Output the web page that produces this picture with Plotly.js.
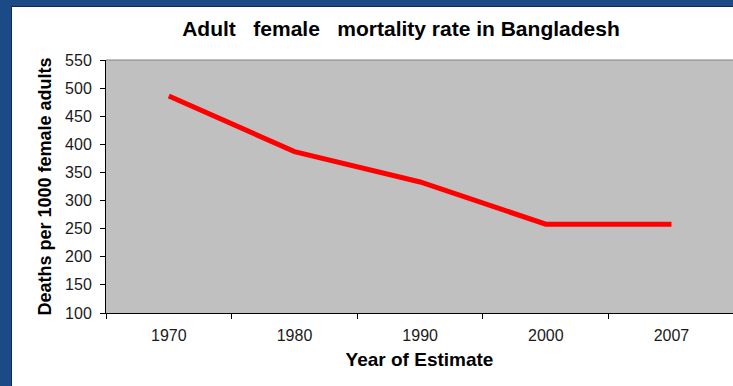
<!DOCTYPE html>
<html>
<head>
<meta charset="utf-8">
<script src="https://cdn.plot.ly/plotly-3.0.1.min.js"></script>
<style>
html,body{margin:0;padding:0;width:733px;height:386px;overflow:hidden;background:#1c4a86;}
#frame{position:absolute;left:11px;top:6px;width:722px;height:380px;background:#ffffff;border-left:1px solid #0e2a50;border-top:1px solid #0e2a50;box-sizing:border-box;}
#chart{position:absolute;left:0;top:0;width:733px;height:386px;}
</style>
</head>
<body>
<div id="frame"></div>
<div id="chart"></div>
<script>
var years = ["1970", "1980", "1990", "2000", "2007"];
var deaths = [486, 387, 333, 258, 258];
var yTicks = [100, 150, 200, 250, 300, 350, 400, 450, 500, 550];

var trace = {
  x: years,
  y: deaths,
  type: "scatter",
  mode: "lines",
  line: {color: "#ff0000", width: 5},
  hoverinfo: "skip"
};

var layout = {
  width: 733,
  height: 386,
  margin: {l: 106, r: 0, t: 60, b: 73, pad: 0},
  paper_bgcolor: "rgba(0,0,0,0)",
  plot_bgcolor: "#c0c0c0",
  showlegend: false,
  font: {family: "Liberation Sans, Arial, sans-serif", size: 16, color: "#1a1a1a"},
  title: {
    text: "Adult&nbsp;&nbsp; female&nbsp;&nbsp; mortality rate in Bangladesh",
    font: {family: "Liberation Sans, Arial, sans-serif", size: 21, color: "#000000", weight: "bold"},
    xref: "container", x: 0.547, xanchor: "center",
    yref: "container", y: 1 - 29/386, yanchor: "middle"
  },
  xaxis: {
    type: "category",
    range: [-0.5, 4.49],
    tickson: "boundaries",
    ticks: "outside",
    ticklen: 5,
    tickcolor: "#000000",
    showline: true,
    linecolor: "#000000",
    linewidth: 1,
    showgrid: false,
    zeroline: false,
    ticklabelstandoff: 8,
    tickfont: {size: 16},
    title: {text: "Year of Estimate", font: {size: 19, color: "#000000", weight: "bold"}, standoff: 9}
  },
  yaxis: {
    range: [100, 550],
    tickvals: yTicks,
    ticks: "outside",
    ticklen: 5,
    tickcolor: "#000000",
    showline: true,
    linecolor: "#000000",
    linewidth: 1,
    showgrid: false,
    zeroline: false,
    ticklabelstandoff: 5,
    tickfont: {size: 16},
    title: {text: "Deaths per 1000 female adults", font: {size: 18, color: "#000000", weight: "bold"}, standoff: 8}
  },
  shapes: [{
    type: "line", xref: "paper", yref: "paper",
    x0: 0, x1: 1, y0: 1, y1: 1,
    line: {color: "#808080", width: 1}
  }]
};

Plotly.newPlot("chart", [trace], layout, {displayModeBar: false, staticPlot: true});
</script>
</body>
</html>
